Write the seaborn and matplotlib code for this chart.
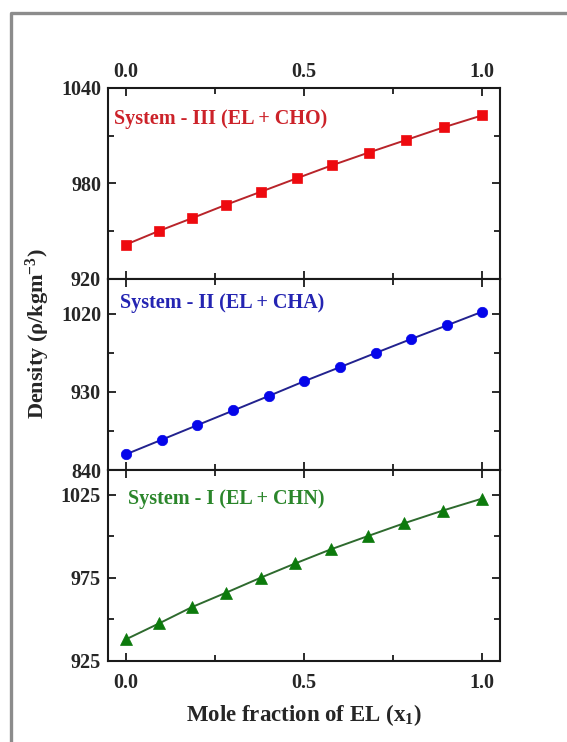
import numpy as np
import pandas as pd
import matplotlib
matplotlib.use("Agg")
import matplotlib.pyplot as plt
from matplotlib.lines import Line2D
import seaborn as sns

# ---- data ----
x_cho = [0.0, 0.093, 0.187, 0.282, 0.380, 0.479, 0.578, 0.681, 0.786, 0.892, 1.0]
rho_cho = [941.6, 950.2, 958.3, 966.7, 974.9, 983.2, 991.4, 999.4, 1007.3, 1015.3, 1022.8]

x_cha = [0.0, 0.101, 0.201, 0.302, 0.402, 0.501, 0.600, 0.701, 0.801, 0.901, 1.0]
rho_cha = [858.0, 874.9, 891.7, 908.6, 925.4, 942.3, 958.3, 974.8, 990.9, 1006.6, 1022.3]

x_chn = [0.0, 0.093, 0.185, 0.282, 0.379, 0.476, 0.575, 0.679, 0.782, 0.890, 1.0]
rho_chn = [938.0, 947.6, 957.4, 966.2, 975.2, 983.8, 992.2, 1000.2, 1008.0, 1015.6, 1022.8]

labels = ["System - III (EL + CHO)", "System - II (EL + CHA)", "System - I (EL + CHN)"]
x_ticks = [0.0, 0.5, 1.0]
x_minor = [0.25, 0.75]
x_tick_labels = ["0.0", "0.5", "1.0"]
y_ticks_cho = [920, 980, 1040]
y_minor_cho = [950, 1010]
y_ticks_cha = [840, 930, 1020]
y_minor_cha = [885, 975]
y_ticks_chn = [925, 975, 1025]
y_minor_chn = [950, 1000]

sns.set_style("ticks")
plt.rcParams["font.family"] = ["Liberation Serif", "DejaVu Serif"]
plt.rcParams["font.weight"] = "bold"
plt.rcParams["mathtext.fontset"] = "custom"
plt.rcParams["mathtext.rm"] = "Liberation Serif:bold"
plt.rcParams["mathtext.it"] = "Liberation Serif:bold"
plt.rcParams["mathtext.bf"] = "Liberation Serif:bold"

fig = plt.figure(figsize=(5.67, 7.42), dpi=100)
fig.patch.set_facecolor("white")

L, W = 108 / 567, 392 / 567
H = 191 / 742
tops = [88, 279, 470]
axes = [fig.add_axes([L, 1 - (t + 191) / 742, W, H]) for t in tops]

panels = [
    dict(x=x_cho, y=rho_cho, marker="s", ms=6.5, mc="#ee0a0f", lc="#b8242a", tc="#cc2229",
         ylim=(920, 1040), major=y_ticks_cho, minor=y_minor_cho, ty=0.838, tx=0.015),
    dict(x=x_cha, y=rho_cha, marker="o", ms=7.5, mc="#0505ea", lc="#22228e", tc="#2424b2",
         ylim=(840, 1060), major=y_ticks_cha, minor=y_minor_cha, ty=0.874, tx=0.031),
    dict(x=x_chn, y=rho_chn, marker="^", ms=8.5, mc="#0c7a0c", lc="#2e6a2e", tc="#2b862b",
         ylim=(925, 1040), major=y_ticks_chn, minor=y_minor_chn, ty=0.848, tx=0.05),
]

for i, (ax, p) in enumerate(zip(axes, panels)):
    df = pd.DataFrame({"x": p["x"], "y": p["y"]})
    sns.lineplot(data=df, x="x", y="y", ax=ax, color=p["lc"], lw=1.4,
                 marker=p["marker"], markersize=p["ms"], markerfacecolor=p["mc"],
                 markeredgecolor=p["mc"], markeredgewidth=0.5)
    ax.set_xlim(-0.05, 1.05)
    ax.set_ylim(*p["ylim"])
    ax.set_xlabel("")
    ax.set_ylabel("")
    ax.set_xticks(x_ticks)
    ax.set_xticks(x_minor, minor=True)
    ax.set_yticks(p["major"])
    ax.set_yticks(p["minor"], minor=True)
    ax.tick_params(which="both", direction="in", top=True, right=True, width=1.3, color="#1a1a1a")
    ax.tick_params(which="major", length=6)
    ax.tick_params(which="minor", length=4.5)
    ax.tick_params(axis="y", labelsize=14.5, pad=5)
    ax.tick_params(axis="x", labelsize=14.5, pad=9)
    for s in ax.spines.values():
        s.set_linewidth(1.5)
        s.set_color("#1a1a1a")
    for lab in ax.get_yticklabels():
        lab.set_fontweight("bold")
    ax.text(p["tx"], p["ty"], labels[i], transform=ax.transAxes, color=p["tc"],
            fontsize=14.5, fontweight="bold", va="center", ha="left")
    if i == 0:
        ax.tick_params(axis="x", labeltop=True, labelbottom=False, pad=4.5)
        ax.set_xticklabels(x_tick_labels, fontweight="bold")
    elif i == 2:
        ax.set_xticklabels(x_tick_labels, fontweight="bold")
        ax.set_xlabel(r"Mole fraction of EL (x$_{1}$)", fontsize=16.5, fontweight="bold", labelpad=6)
    else:
        ax.tick_params(axis="x", labelbottom=False)

fig.text(38 / 567, 1 - 334 / 742, r"Density (ρ/kgm$^{-3}$)", rotation=90,
         fontsize=16, fontweight="bold", ha="center", va="center")

# grey frame (left & top edges)
fig.add_artist(Line2D([10.5 / 567, 10.5 / 567, 1.0], [0.0, 1 - 12.5 / 742, 1 - 12.5 / 742],
                      transform=fig.transFigure, color="#8c8c8c", lw=2.4))

fig.savefig("out.png", dpi=100, facecolor="white")
